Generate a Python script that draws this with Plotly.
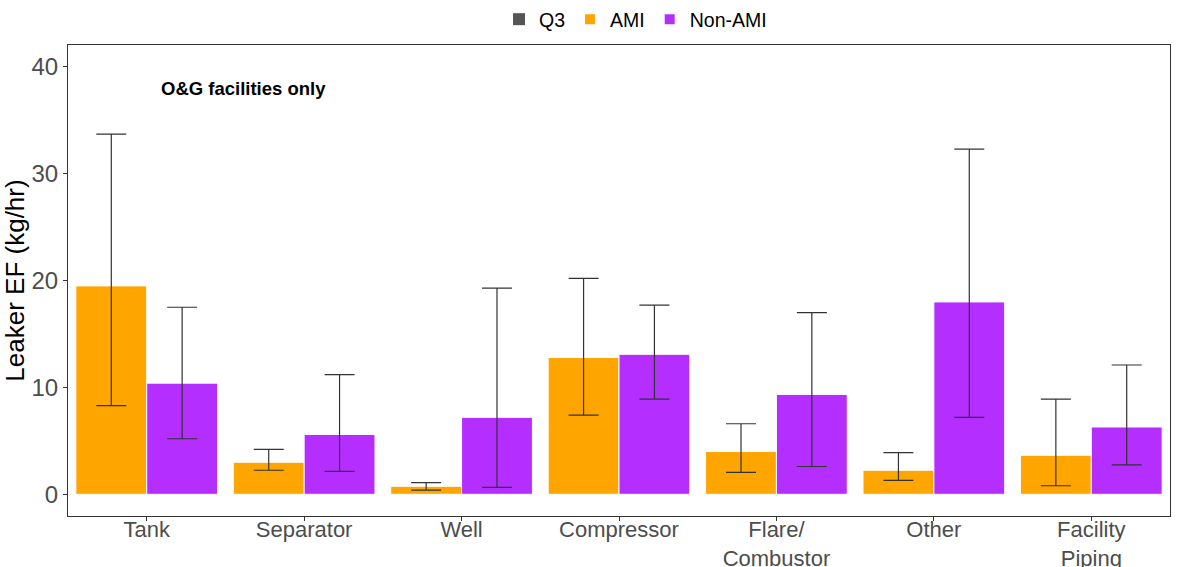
import plotly.graph_objects as go

categories = ["Tank", "Separator", "Well", "Compressor", "Flare/<br>Combustor", "Other", "Facility<br>Piping"]

ami_mean = [19.5, 3.0, 0.75, 12.8, 4.0, 2.25, 3.65]
ami_q1 = [8.3, 2.25, 0.4, 7.4, 2.05, 1.3, 0.8]
ami_q3 = [33.7, 4.2, 1.1, 20.2, 6.6, 3.9, 8.9]

non_mean = [10.4, 5.6, 7.2, 13.1, 9.35, 18.0, 6.3]
non_q1 = [5.2, 2.15, 0.65, 8.9, 2.6, 7.2, 2.75]
non_q3 = [17.5, 11.2, 19.3, 17.7, 17.0, 32.3, 12.1]

AMI_COLOR = "#FFA500"
NON_COLOR = "#B32EFF"
ERR_COLOR = "#333333"
FONT = "Arial, Liberation Sans, sans-serif"


def err(mean, lo, hi):
    return dict(
        type="data", symmetric=False,
        array=[h - m for h, m in zip(hi, mean)],
        arrayminus=[m - l for m, l in zip(mean, lo)],
        color=ERR_COLOR, thickness=1.2, width=15,
    )


fig = go.Figure()

fig.add_trace(go.Scatter(
    x=[categories[0]], y=[None], mode="markers", name="Q3",
    marker=dict(symbol="square", size=14, color="#555555"),
))
fig.add_trace(go.Bar(
    x=categories, y=ami_mean, name="AMI",
    marker=dict(color=AMI_COLOR, line=dict(color="white", width=1)),
    error_y=err(ami_mean, ami_q1, ami_q3),
))
fig.add_trace(go.Bar(
    x=categories, y=non_mean, name="Non-AMI",
    marker=dict(color=NON_COLOR, line=dict(color="white", width=1)),
    error_y=err(non_mean, non_q1, non_q3),
))

fig.add_annotation(
    x=0.083, y=0.9066, xref="paper", yref="paper",
    text="<b>O&G facilities only</b>", showarrow=False,
    xanchor="left", yanchor="middle",
    font=dict(family=FONT, size=18.5, color="black"),
)

fig.update_layout(
    width=1180, height=567,
    margin=dict(l=68, r=10, t=45, b=51),
    paper_bgcolor="white", plot_bgcolor="white",
    barmode="group", bargap=0.1, bargroupgap=0,
    font=dict(family=FONT),
    showlegend=True,
    legend=dict(
        orientation="h", x=0.515, xanchor="center",
        y=1.0, yref="container", yanchor="top",
        font=dict(family=FONT, size=19.5, color="black"),
        itemsizing="constant",
    ),
    xaxis=dict(
        automargin=False,
        showline=True, linecolor="#333333", linewidth=1, mirror=True,
        ticks="outside", ticklen=4, tickcolor="#333333",
        tickfont=dict(family=FONT, size=22, color="#4D4D4D"),
        ticklabelstandoff=-10,
        showgrid=False,
    ),
    yaxis=dict(
        automargin=False,
        range=[-2.03, 42.04],
        tickvals=[0, 10, 20, 30, 40],
        showline=True, linecolor="#333333", linewidth=1, mirror=True,
        ticks="outside", ticklen=4, tickcolor="#333333",
        tickfont=dict(family=FONT, size=24, color="#4D4D4D"),
        showgrid=False, zeroline=False,
        title=dict(text="Leaker EF (kg/hr)", font=dict(family=FONT, size=26, color="black"), standoff=0),
    ),
)

fig.write_html("out.html")
